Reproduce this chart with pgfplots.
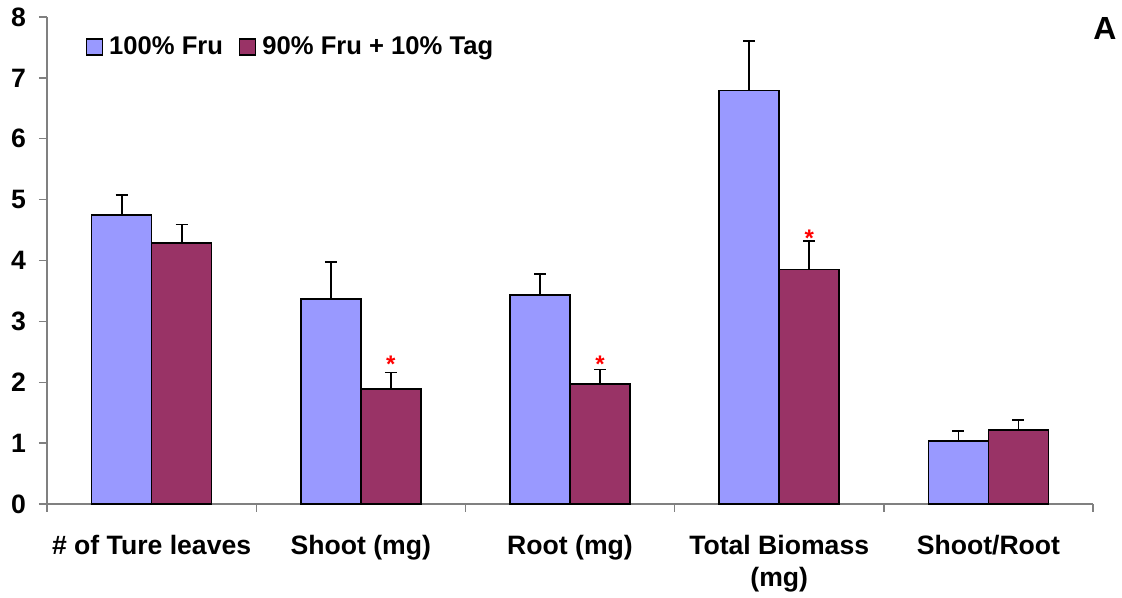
\documentclass[border=0pt]{standalone}
\usepackage{pgfplots}
\pgfplotsset{compat=1.18}
\usepackage{fontspec}
\setmainfont{Liberation Sans}
\definecolor{fruBlue}{HTML}{9999FF}
\definecolor{tagRed}{HTML}{993366}
\definecolor{axisGray}{HTML}{808080}

\pgfplotstableread{
x  y     e
0  4.75  0.32
1  3.37  0.60
2  3.43  0.35
3  6.79  0.81
4  1.03  0.17
}\fruonly
\pgfplotstableread{
x  y     e
0  4.29  0.30
1  1.89  0.27
2  1.97  0.24
3  3.85  0.47
4  1.22  0.16
}\frutag

\begin{document}
\begin{tikzpicture}
\useasboundingbox (-23.5pt,-47pt) rectangle (537.5pt,252pt);
\begin{axis}[
  at={(0pt,0pt)}, anchor=south west,
  scale only axis, width=523pt, height=243.5pt,
  clip=false,
  ybar=0pt, bar width=30pt,
  xmin=-0.5, xmax=4.5, ymin=0, ymax=8,
  ytick={0,...,8},
  xtick={0,...,4},
  xticklabels={\# of Ture leaves, Shoot (mg), Root (mg), {Total Biomass\\(mg)}, Shoot/Root},
  minor xtick={-0.5,0.5,...,4.5},
  axis x line*=bottom, axis y line*=left,
  axis line style={axisGray, line width=0.7pt, -},
  tick align=outside,
  major tick length=4pt, minor tick length=4pt,
  major x tick style={draw=none},
  minor x tick style={axisGray, line width=0.7pt},
  ytick style={axisGray, line width=0.7pt},
  /pgf/number format/assume math mode=true,
  ticklabel style={font=\fontsize{13.3}{16}\selectfont\bfseries},
  yticklabel style={xshift=-3pt},
  xticklabel style={align=center, yshift=-8pt},
  sqlegend/.style={legend image code/.code={
      \draw[##1, line width=0.7pt] (0pt,-4pt) rectangle (8pt,4pt);}},
  legend columns=2,
  legend style={draw=none, fill=none, at={(0.031,0.977)}, anchor=north west,
    font=\fontsize{12.8}{15}\selectfont\bfseries,
    /tikz/every odd column/.append style={column sep=1pt},
    /tikz/every even column/.append style={column sep=6pt}},
]
\addplot[fill=fruBlue, draw=black, line width=0.8pt, sqlegend,
  error bars/.cd, y dir=plus, y explicit, error mark=|,
  error bar style={black, line width=0.9pt},
  error mark options={black, mark size=3pt, line width=0.9pt}]
  table[x=x, y=y, y error=e] {\fruonly};
\addlegendentry{100\% Fru}
\addplot[fill=tagRed, draw=black, line width=0.8pt, sqlegend,
  error bars/.cd, y dir=plus, y explicit, error mark=|,
  error bar style={black, line width=0.9pt},
  error mark options={black, mark size=3pt, line width=0.9pt}]
  table[x=x, y=y, y error=e] {\frutag};
\addlegendentry{90\% Fru + 10\% Tag}

% significance marks over the treated bars
\node[text=red, anchor=base, xshift=15pt, yshift=-6pt, font=\fontsize{12}{14}\selectfont\bfseries] at (axis cs:1,2.36) {*};
\node[text=red, anchor=base, xshift=15pt, yshift=-6pt, font=\fontsize{12}{14}\selectfont\bfseries] at (axis cs:2,2.35) {*};
\node[text=red, anchor=base, xshift=15pt, yshift=-6pt, font=\fontsize{12}{14}\selectfont\bfseries] at (axis cs:3,4.42) {*};

\node[font=\fontsize{16}{18}\selectfont\bfseries] at (rel axis cs:1.0115,0.977) {A};
\end{axis}
\end{tikzpicture}
\end{document}
